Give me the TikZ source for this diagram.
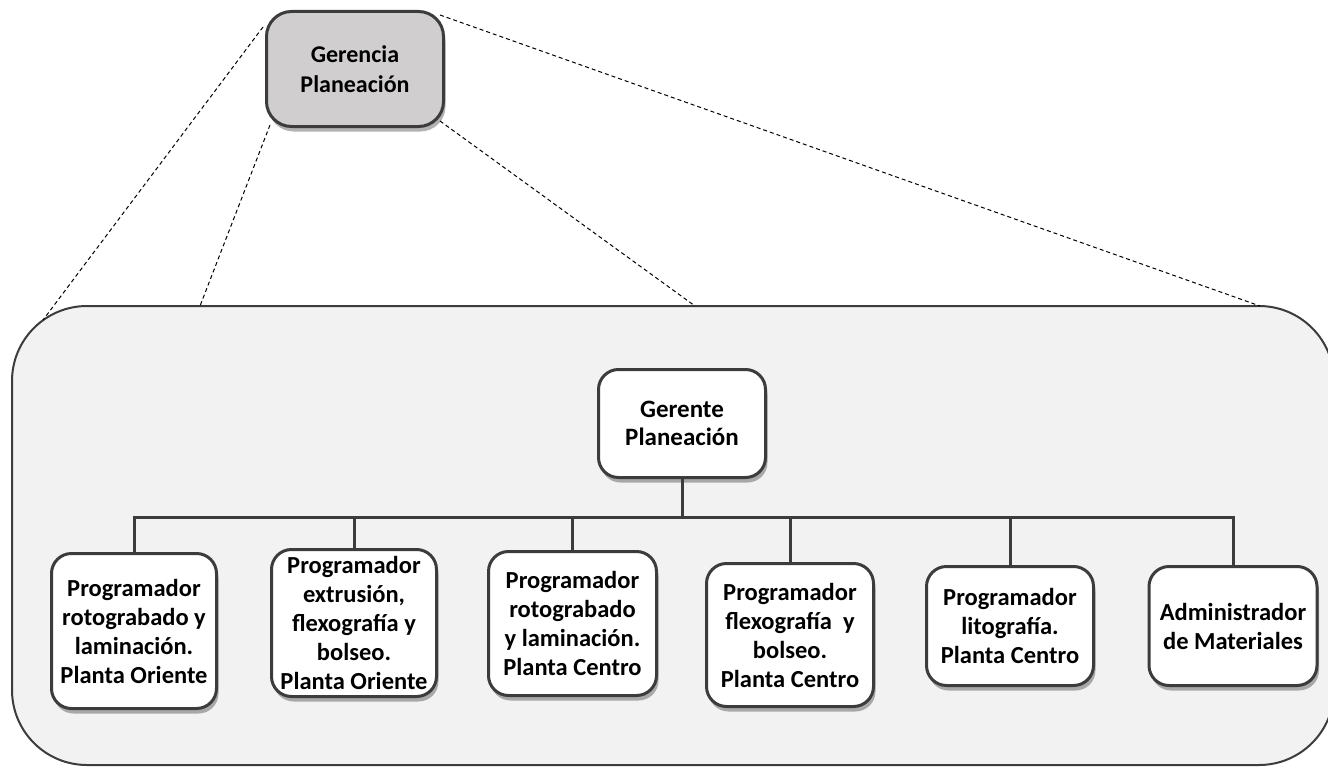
\documentclass[tikz,border=0pt]{standalone}
\usepackage{fontspec}
\setmainfont{Carlito}
\usetikzlibrary{shadows}
\definecolor{edge}{HTML}{3C3C3C}
\definecolor{panelfill}{HTML}{F2F2F2}
\definecolor{topfill}{HTML}{D0CECE}
\tikzset{
  orgbox/.style={draw=edge, line width=3pt, rounded corners=20pt, fill=white,
    align=center, inner sep=0pt, font=\bfseries\fontsize{24.5}{29}\selectfont,
    drop shadow={shadow xshift=2pt, shadow yshift=-5pt, opacity=0.3, fill=black}},
  topbox/.style={orgbox, fill=topfill, rounded corners=25pt,
    font=\bfseries\fontsize{24}{30}\selectfont},
  gerbox/.style={orgbox, font=\bfseries\fontsize{25}{28}\selectfont},
  panelbox/.style={draw=edge, line width=2pt, rounded corners=75pt, fill=panelfill, inner sep=0pt},
  link/.style={draw=edge, line width=3pt},
  zoomline/.style={draw=black, line width=1pt, dash pattern=on 4pt off 3pt}
}
\begin{document}
\begin{tikzpicture}[x=1pt, y=-1pt]
\useasboundingbox (0,0) rectangle (1328,768);
\fill[white] (0,0) rectangle (1328,768);

% container panel
\node[panelbox, minimum width=1322pt, minimum height=459pt] (panel) at (673,535.5) {};

% dashed zoom lines
\coordinate (t1) at (263,27);
\coordinate (t2) at (270,125);
\coordinate (t3) at (440,121);
\coordinate (t4) at (440,15);
\coordinate (p1) at (43,320);
\coordinate (p2) at (200,306);
\coordinate (p3) at (695,306);
\coordinate (p4) at (1260,306);
\draw[zoomline] (t1) -- (p1);
\draw[zoomline] (t2) -- (p2);
\draw[zoomline] (t3) -- (p3);
\draw[zoomline] (t4) -- (p4);

% top box
\node[topbox, minimum width=177pt, minimum height=115pt] (top) at (355,69) {Gerencia\\Planeación};

% gerente
\node[gerbox, minimum width=167pt, minimum height=108pt] (ger) at (682,423.5) {Gerente\\Planeación};

% children
\node[orgbox, minimum width=165pt, minimum height=155pt] (c1) at (134,631)
  {Programador\\rotograbado y\\laminación.\\Planta Oriente};
\node[orgbox, minimum width=165pt, minimum height=147pt] (c2) at (354,623)
  {Programador\\extrusión,\\flexografía y\\bolseo.\\Planta Oriente};
\node[orgbox, minimum width=168pt, minimum height=144pt] (c3) at (572.5,623.5)
  {Programador\\rotograbado\\y laminación.\\Planta Centro};
\node[orgbox, minimum width=167pt, minimum height=143pt] (c4) at (790,635)
  {Programador\\flexografía~ y\\bolseo.\\Planta Centro};
\node[orgbox, minimum width=167pt, minimum height=119pt] (c5) at (1010,626)
  {Programador\\litografía.\\Planta Centro};
\node[orgbox, minimum width=168pt, minimum height=119pt] (c6) at (1233,626)
  {Administrador\\de Materiales};

% connectors
\coordinate (bus) at (682,517);
\draw[link] (ger.south) -- (bus);
\draw[link] (c1.north) |- (bus) -| (c6.north);
\draw[link] (c2.north) -- (c2.north |- bus);
\draw[link] (c3.north) -- (c3.north |- bus);
\draw[link] (c4.north) -- (c4.north |- bus);
\draw[link] (c5.north) -- (c5.north |- bus);
\end{tikzpicture}
\end{document}
